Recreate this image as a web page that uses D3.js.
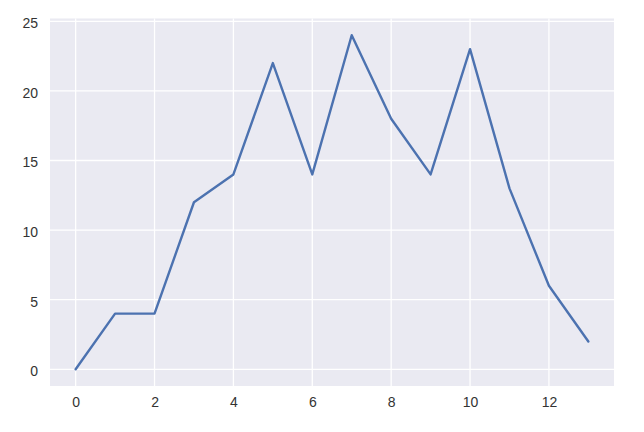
<!DOCTYPE html>
<html><head><meta charset="utf-8">
<script src="https://cdn.jsdelivr.net/npm/d3@7"></script>
<style>body{margin:0;background:#fff}</style>
</head><body>
<script>
const xValues = [0,1,2,3,4,5,6,7,8,9,10,11,12,13];
const yValues = [0,4,4,12,14,22,14,24,18,14,23,13,6,2];
const xTicks = [0,2,4,6,8,10,12];
const yTicks = [0,5,10,15,20,25];

const W = 644, H = 432;
const pLeft = 50, pRight = 614, pTop = 18.5, pBottom = 386;
const svg = d3.select("body").append("svg").attr("width", W).attr("height", H);
const x = d3.scaleLinear().domain([-0.65, 13.65]).range([pLeft, pRight]);
const y = d3.scaleLinear().domain([-1.2, 25.2]).range([pBottom, pTop]);

svg.append("rect").attr("x", pLeft).attr("y", pTop).attr("width", pRight-pLeft).attr("height", pBottom-pTop).attr("fill", "#eaeaf2");

svg.append("g").selectAll("line").data(xTicks).join("line")
  .attr("x1", d => x(d)).attr("x2", d => x(d)).attr("y1", pTop).attr("y2", pBottom)
  .attr("stroke", "#fff").attr("stroke-width", 1.3);
svg.append("g").selectAll("line").data(yTicks).join("line")
  .attr("y1", d => y(d)).attr("y2", d => y(d)).attr("x1", pLeft).attr("x2", pRight)
  .attr("stroke", "#fff").attr("stroke-width", 1.3);

const xAxis = svg.append("g").attr("transform", `translate(0,${pBottom})`)
  .call(d3.axisBottom(x).tickValues(xTicks).tickSize(0).tickPadding(11).tickFormat(d3.format("d")));
const yAxis = svg.append("g").attr("transform", `translate(${pLeft},0)`)
  .call(d3.axisLeft(y).tickValues(yTicks).tickSize(0).tickPadding(12).tickFormat(d3.format("d")));
[xAxis, yAxis].forEach(a => {
  a.select(".domain").remove();
  a.selectAll("text").attr("font-family", "'Liberation Sans', Arial, sans-serif").attr("font-size", 14).attr("fill", "#333");
});
yAxis.selectAll("text").attr("dy", "0.45em");

const line = d3.line().x((d, i) => x(xValues[i])).y(d => y(d));
svg.append("path").datum(yValues).attr("d", line).attr("fill", "none")
  .attr("stroke", "#4c72b0").attr("stroke-width", 2.4).attr("stroke-linejoin", "round").attr("stroke-linecap", "round");
</script>
</body></html>
